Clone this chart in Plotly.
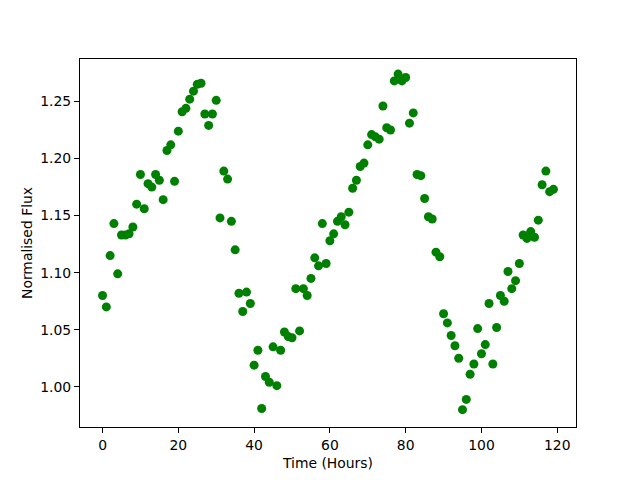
import plotly.graph_objects as go

hours = list(range(120))
flux = [
    1.080, 1.070, 1.115, 1.143, 1.099, 1.133, 1.133, 1.134, 1.140, 1.160,
    1.186, 1.156, 1.178, 1.175, 1.186, 1.181, 1.164, 1.207, 1.212, 1.180,
    1.224, 1.241, 1.244, 1.252, 1.259, 1.265, 1.266, 1.239, 1.229, 1.239,
    1.251, 1.148, 1.189, 1.182, 1.145, 1.120, 1.082, 1.066, 1.083, 1.073,
    1.019, 1.032, 0.981, 1.009, 1.004, 1.035, 1.001, 1.032, 1.048, 1.044,
    1.043, 1.086, 1.049, 1.086, 1.080, 1.095, 1.113, 1.106, 1.143, 1.108,
    1.128, 1.134, 1.145, 1.149, 1.142, 1.153, 1.174, 1.181, 1.193, 1.196,
    1.212, 1.221, 1.219, 1.217, 1.246, 1.227, 1.225, 1.268, 1.274, 1.268,
    1.271, 1.231, 1.240, 1.186, 1.185, 1.165, 1.149, 1.147, 1.118, 1.114,
    1.064, 1.056, 1.045, 1.036, 1.025, 0.980, 0.989, 1.011, 1.020, 1.051,
    1.029, 1.037, 1.073, 1.020, 1.052, 1.080, 1.075, 1.101, 1.086, 1.093,
    1.108, 1.133, 1.130, 1.136, 1.131, 1.146, 1.177, 1.189, 1.171, 1.173,
]
x_ticks = [0, 20, 40, 60, 80, 100, 120]
y_ticks = [1.00, 1.05, 1.10, 1.15, 1.20, 1.25]

fig = go.Figure(go.Scatter(
    x=hours, y=flux, mode="markers",
    marker=dict(color="#008000", size=9, line=dict(width=0)),
))

font = dict(family="DejaVu Sans", size=13.9, color="black")
axis_common = dict(
    showgrid=False, zeroline=False, showline=True, linecolor="black",
    linewidth=1, mirror=True, ticks="outside", ticklen=5, tickwidth=1,
    tickcolor="black", tickfont=font,
)
fig.update_layout(
    width=640, height=480,
    margin=dict(l=72, r=72, t=51, b=61),
    paper_bgcolor="white", plot_bgcolor="white",
    showlegend=False,
    font=font,
    xaxis=dict(range=[-5.95, 124.95], tickvals=x_ticks,
               title=dict(text="Time (Hours)", font=font, standoff=6),
               **axis_common),
    yaxis=dict(range=[0.9648, 1.2872], tickvals=y_ticks, tickformat=".2f",
               title=dict(text="Normalised Flux", font=font, standoff=4),
               **axis_common),
)
fig.write_html("out.html")
